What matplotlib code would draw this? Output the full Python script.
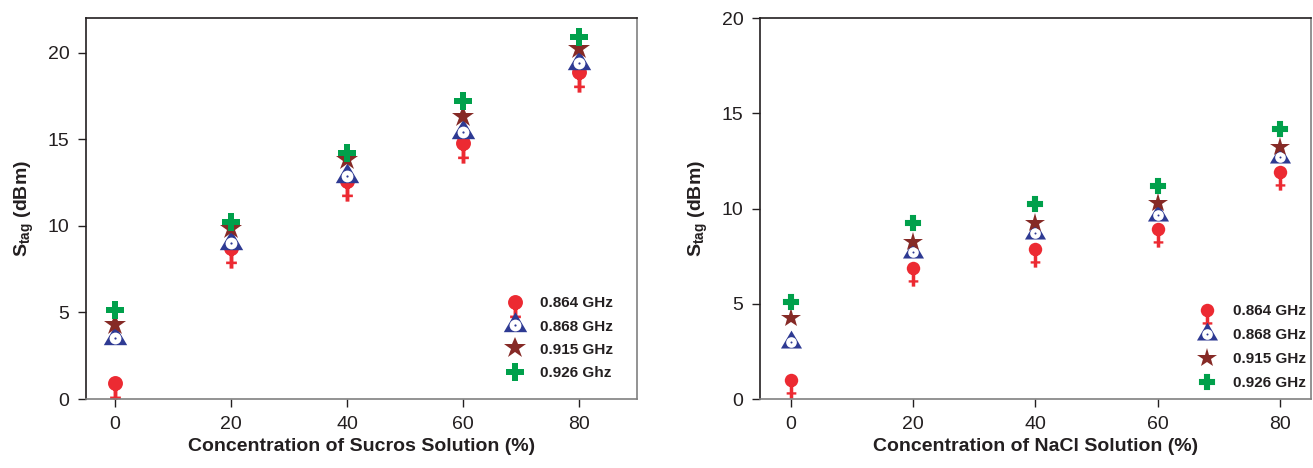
import numpy as np
import matplotlib
matplotlib.use('Agg')
import matplotlib.pyplot as plt
from matplotlib.path import Path
from matplotlib.legend_handler import HandlerTuple

plt.rcParams['font.family'] = ['Liberation Sans', 'DejaVu Sans']
plt.rcParams['mathtext.fontset'] = 'custom'
plt.rcParams['mathtext.rm'] = 'Liberation Sans'
plt.rcParams['mathtext.bf'] = 'Liberation Sans:bold'

# data
conc = [0, 20, 40, 60, 80]
labels_suc = ['0.864 GHz', '0.868 GHz', '0.915 GHz', '0.926 Ghz']
labels_nacl = ['0.864 GHz', '0.868 GHz', '0.915 GHz', '0.926 GHz']

suc_864 = [0.9, 8.7, 12.6, 14.8, 18.9]
suc_868 = [3.5, 9.0, 12.9, 15.4, 19.4]
suc_915 = [4.3, 9.8, 13.8, 16.3, 20.2]
suc_926 = [5.15, 10.2, 14.2, 17.2, 20.9]

nacl_864 = [1.0, 6.9, 7.9, 8.9, 11.9]
nacl_868 = [3.0, 7.7, 8.7, 9.65, 12.7]
nacl_915 = [4.25, 8.25, 9.25, 10.3, 13.25]
nacl_926 = [5.1, 9.25, 10.25, 11.2, 14.2]

red = '#EC2A32'
blue = '#2E3A93'
brown = '#862A26'
green = '#00A04B'
txt = '#231F20'

# female sign marker (circle + cross below), both counter-clockwise
circ = Path.circle((0, 0), 1.0)
cross_pts = [(-0.26, -0.6), (-0.26, -1.75), (-0.72, -1.75), (-0.72, -2.1), (-0.26, -2.1),
             (-0.26, -2.7), (0.26, -2.7), (0.26, -2.1), (0.72, -2.1), (0.72, -1.75),
             (0.26, -1.75), (0.26, -0.6), (-0.26, -0.6)]
cross = Path(cross_pts, closed=True)
female = Path.make_compound_path(circ, cross)

# triangle with origin at incenter
tri = Path([(-1, -0.572), (1, -0.572), (0, 1.128), (-1, -0.572)], closed=True)


def draw(ax, y1, y2, y3, k):
    h1, = ax.plot(conc, y1, ls='none', marker=female, ms=29 * k, color=red, mew=0)
    h2a, = ax.plot(conc, y2, ls='none', marker=tri, ms=19 * k, color=blue, mew=0)
    h2b, = ax.plot(conc, y2, ls='none', marker='o', ms=8.5 * k, color='white', mew=0)
    h2c, = ax.plot(conc, y2, ls='none', marker='o', ms=1.6 * k, color=blue, mew=0)
    h3, = ax.plot(conc, y3, ls='none', marker='*', ms=16.5 * k, color=brown, mew=0)
    return [h1, (h2a, h2b, h2c), h3]


fig = plt.figure(figsize=(13.13, 4.68), dpi=100)
ax1 = fig.add_axes([0.0655, 0.1474, 0.4196, 0.8141])
ax2 = fig.add_axes([0.5788, 0.1474, 0.4197, 0.8141])

hs = draw(ax1, suc_864, suc_868, suc_915, 1.0)
h4, = ax1.plot(conc, suc_926, ls='none', marker='P', ms=13, color=green, mew=0)
hs.append(h4)
ax1.set_xlim(-5, 90)
ax1.set_ylim(0, 22)
ax1.set_yticks([0, 5, 10, 15, 20])
ax1.set_xlabel('Concentration of Sucros Solution (%)', fontsize=14, fontweight='bold', color=txt, labelpad=4)
ax1.legend(hs, labels_suc, handler_map={tuple: HandlerTuple(ndivide=1, pad=0)},
           loc='lower right', bbox_to_anchor=(0.97, 0.03), frameon=False,
           borderpad=0, handletextpad=0.95, labelspacing=0.6, numpoints=1,
           handlelength=1.3, prop={'size': 11, 'weight': 'bold'})

hs2 = draw(ax2, nacl_864, nacl_868, nacl_915, 0.9)
h4b, = ax2.plot(conc, nacl_926, ls='none', marker='P', ms=10.5, color=green,
                mec=green, mew=1.5)
hs2.append(h4b)
ax2.set_xlim(-5, 85)
ax2.set_ylim(0, 20)
ax2.set_yticks([0, 5, 10, 15, 20])
ax2.set_xlabel('Concentration of NaCl Solution (%)', fontsize=14, fontweight='bold', color=txt, labelpad=4)
ax2.legend(hs2, labels_nacl, handler_map={tuple: HandlerTuple(ndivide=1, pad=0)},
           loc='lower right', bbox_to_anchor=(1.004, 0.003), frameon=False,
           borderpad=0, handletextpad=1.0, labelspacing=0.65, numpoints=1,
           handlelength=1.3, prop={'size': 11, 'weight': 'bold'})

for ax in (ax1, ax2):
    ax.set_xticks(conc)
    ax.set_ylabel(r'$\mathbf{S_{tag}}$ (dBm)', fontsize=14, fontweight='bold', color=txt, labelpad=8)
    ax.tick_params(direction='out', length=6, width=1, labelsize=14, colors=txt, pad=6)
    ax.spines['left'].set_color('#231F20')
    ax.spines['top'].set_color('#231F20')
    ax.spines['right'].set_color('#808080')
    ax.spines['bottom'].set_color('#808080')
    for s in ax.spines.values():
        s.set_linewidth(1.2)
    for t in ax.get_legend().get_texts():
        t.set_color(txt)

fig.savefig('out.png', dpi=100)
